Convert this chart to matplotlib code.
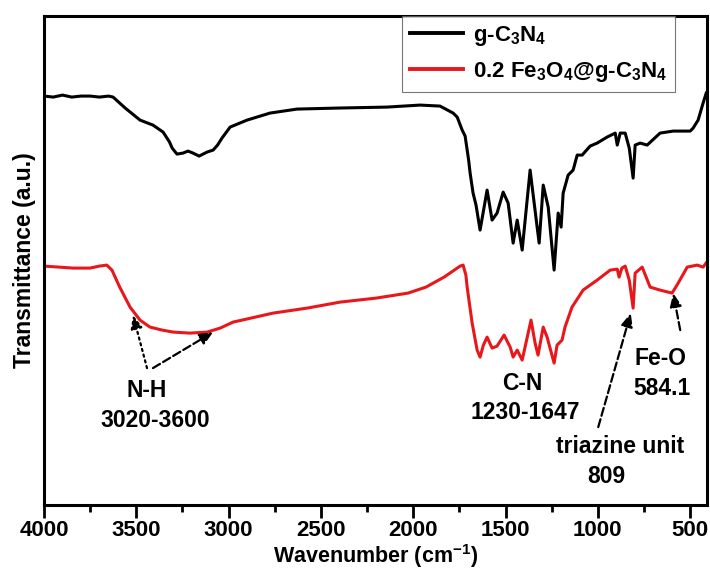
import numpy as np
import matplotlib
matplotlib.use('Agg')
import matplotlib.pyplot as plt

plt.rcParams['font.family'] = ['Liberation Sans', 'DejaVu Sans']
plt.rcParams['font.weight'] = 'bold'
plt.rcParams['mathtext.fontset'] = 'custom'
plt.rcParams['mathtext.rm'] = 'Liberation Sans:bold'
plt.rcParams['mathtext.it'] = 'Liberation Sans:bold'
plt.rcParams['mathtext.bf'] = 'Liberation Sans:bold'
plt.rcParams['mathtext.default'] = 'rm'

# g-C3N4 spectrum (wavenumber, transmittance a.u.)
wn_g = [4000, 3950, 3900, 3850, 3800, 3750, 3700, 3650, 3626, 3560, 3480, 3410,
        3355, 3320, 3306, 3280, 3247, 3220, 3193, 3160, 3117, 3084, 3060, 3036,
        2992, 2900, 2776, 2630, 2413, 2142, 1963, 1855, 1784, 1762, 1735, 1719,
        1700, 1692, 1676, 1660, 1638, 1600, 1573, 1546, 1513, 1486, 1459, 1437,
        1410, 1367, 1329, 1318, 1296, 1269, 1237, 1215, 1199, 1188, 1161, 1134,
        1112, 1085, 1042, 1004, 950, 906, 895, 879, 852, 830, 809, 798, 771,
        733, 663, 592, 500, 484, 457, 430, 413]
tr_g = [409, 408, 410, 408, 409, 409, 408, 409, 408, 397, 385, 380,
        373, 363, 357, 351, 352, 354, 352, 349, 353, 355, 360, 367,
        378, 385, 392, 396, 397, 398, 400, 399, 392, 388, 375, 369,
        345, 332, 312, 300, 275, 315, 285, 292, 313, 302, 262, 285,
        255, 335, 278, 262, 320, 298, 235, 292, 278, 312, 330, 335,
        350, 350, 359, 362, 368, 372, 360, 372, 372, 357, 327, 360, 362,
        360, 372, 374, 374, 377, 385, 402, 412]

# 0.2 Fe3O4@g-C3N4 spectrum
wn_fe = [4000, 3920, 3843, 3751, 3700, 3660, 3632, 3590, 3534, 3480, 3426, 3360,
         3300, 3209, 3117, 3046, 2976, 2759, 2575, 2396, 2201, 2028, 1931, 1833,
         1746, 1730, 1715, 1708, 1681, 1654, 1638, 1620, 1600, 1573, 1546, 1508,
         1475, 1459, 1437, 1410, 1362, 1340, 1324, 1296, 1275, 1237, 1221, 1194,
         1178, 1140, 1080, 1004, 933, 895, 885, 870, 852, 830, 809, 798, 760,
         717, 663, 598, 565, 516, 462, 430, 414]
tr_fe = [239, 238, 237, 237, 239, 240, 235, 218, 198, 185, 178, 175,
         173, 172, 173, 177, 183, 192, 197, 203, 207, 212, 218, 228,
         239, 240, 230, 218, 182, 155, 148, 160, 168, 157, 159, 170,
         158, 148, 155, 145, 185, 162, 150, 178, 168, 142, 160, 165,
         178, 198, 215, 225, 235, 236, 228, 237, 239, 225, 197, 232, 238,
         218, 215, 212, 222, 238, 240, 238, 242]

labels = ['g-C$_3$N$_4$', '0.2 Fe$_3$O$_4$@g-C$_3$N$_4$']

fig = plt.figure(figsize=(7.1, 5.74), dpi=100)
ax = fig.add_axes([0.062, 0.120, 0.934, 0.852])

ax.plot(wn_g, tr_g, color='black', lw=2.2, label=labels[0])
ax.plot(wn_fe, tr_fe, color='#e8171b', lw=2.2, label=labels[1])

ax.set_xlim(4000, 408)
ax.set_ylim(0, 489)
ax.set_xticks([4000, 3500, 3000, 2500, 2000, 1500, 1000, 500])
ax.set_xticks(np.arange(3750, 400, -500), minor=True)
ax.set_yticks([])
ax.tick_params(axis='x', which='major', direction='out', length=9, width=2,
               labelsize=16, pad=2)
ax.tick_params(axis='x', which='minor', direction='out', length=5, width=2)
for lab in ax.get_xticklabels():
    lab.set_fontweight('bold')
for sp in ax.spines.values():
    sp.set_linewidth(2.2)

ax.set_xlabel('Wavenumber (cm$^{-1}$)', fontsize=15.5, fontweight='bold')
ax.xaxis.set_label_coords(0.5, -0.076)
ax.set_ylabel('Transmittance (a.u.)', fontsize=16.5, fontweight='bold', labelpad=6)

leg = ax.legend(loc='upper left', bbox_to_anchor=(0.54, 1.0), borderaxespad=0,
                fontsize=16, frameon=True, fancybox=False, handlelength=2.4,
                handletextpad=0.45, labelspacing=0.55, borderpad=0.35)
leg.get_frame().set_edgecolor('#555555')
leg.get_frame().set_linewidth(0.8)
for t in leg.get_texts():
    t.set_fontweight('bold')
for h in leg.get_lines():
    h.set_linewidth(2.8)

tkw = dict(ha='center', va='center', fontsize=16.5, fontweight='bold')
ax.text(3442, 115, 'N-H', **tkw)
ax.text(3399, 85, '3020-3600', **tkw)
ax.text(1410, 122, 'C-N', **tkw)
ax.text(1394, 93, '1230-1647', **tkw)
ax.text(663, 147, 'Fe-O', **tkw)
ax.text(652, 117, '584.1', **tkw)
ax.text(879, 59, 'triazine unit', **tkw)
ax.text(955, 29, '809', **tkw)

def arrow(tail, head, ls):
    ax.annotate('', xy=head, xytext=tail,
                arrowprops=dict(arrowstyle='-|>,head_length=0.8,head_width=0.35',
                                color='black', lw=1.6, linestyle=ls,
                                shrinkA=0, shrinkB=0))

arrow((3442, 137), (3518, 190), ':')
arrow((3410, 137), (3084, 173), '--')
arrow((998, 78), (822, 192), '--')
arrow((554, 175), (592, 212), '--')

plt.savefig('out.png', dpi=100)
